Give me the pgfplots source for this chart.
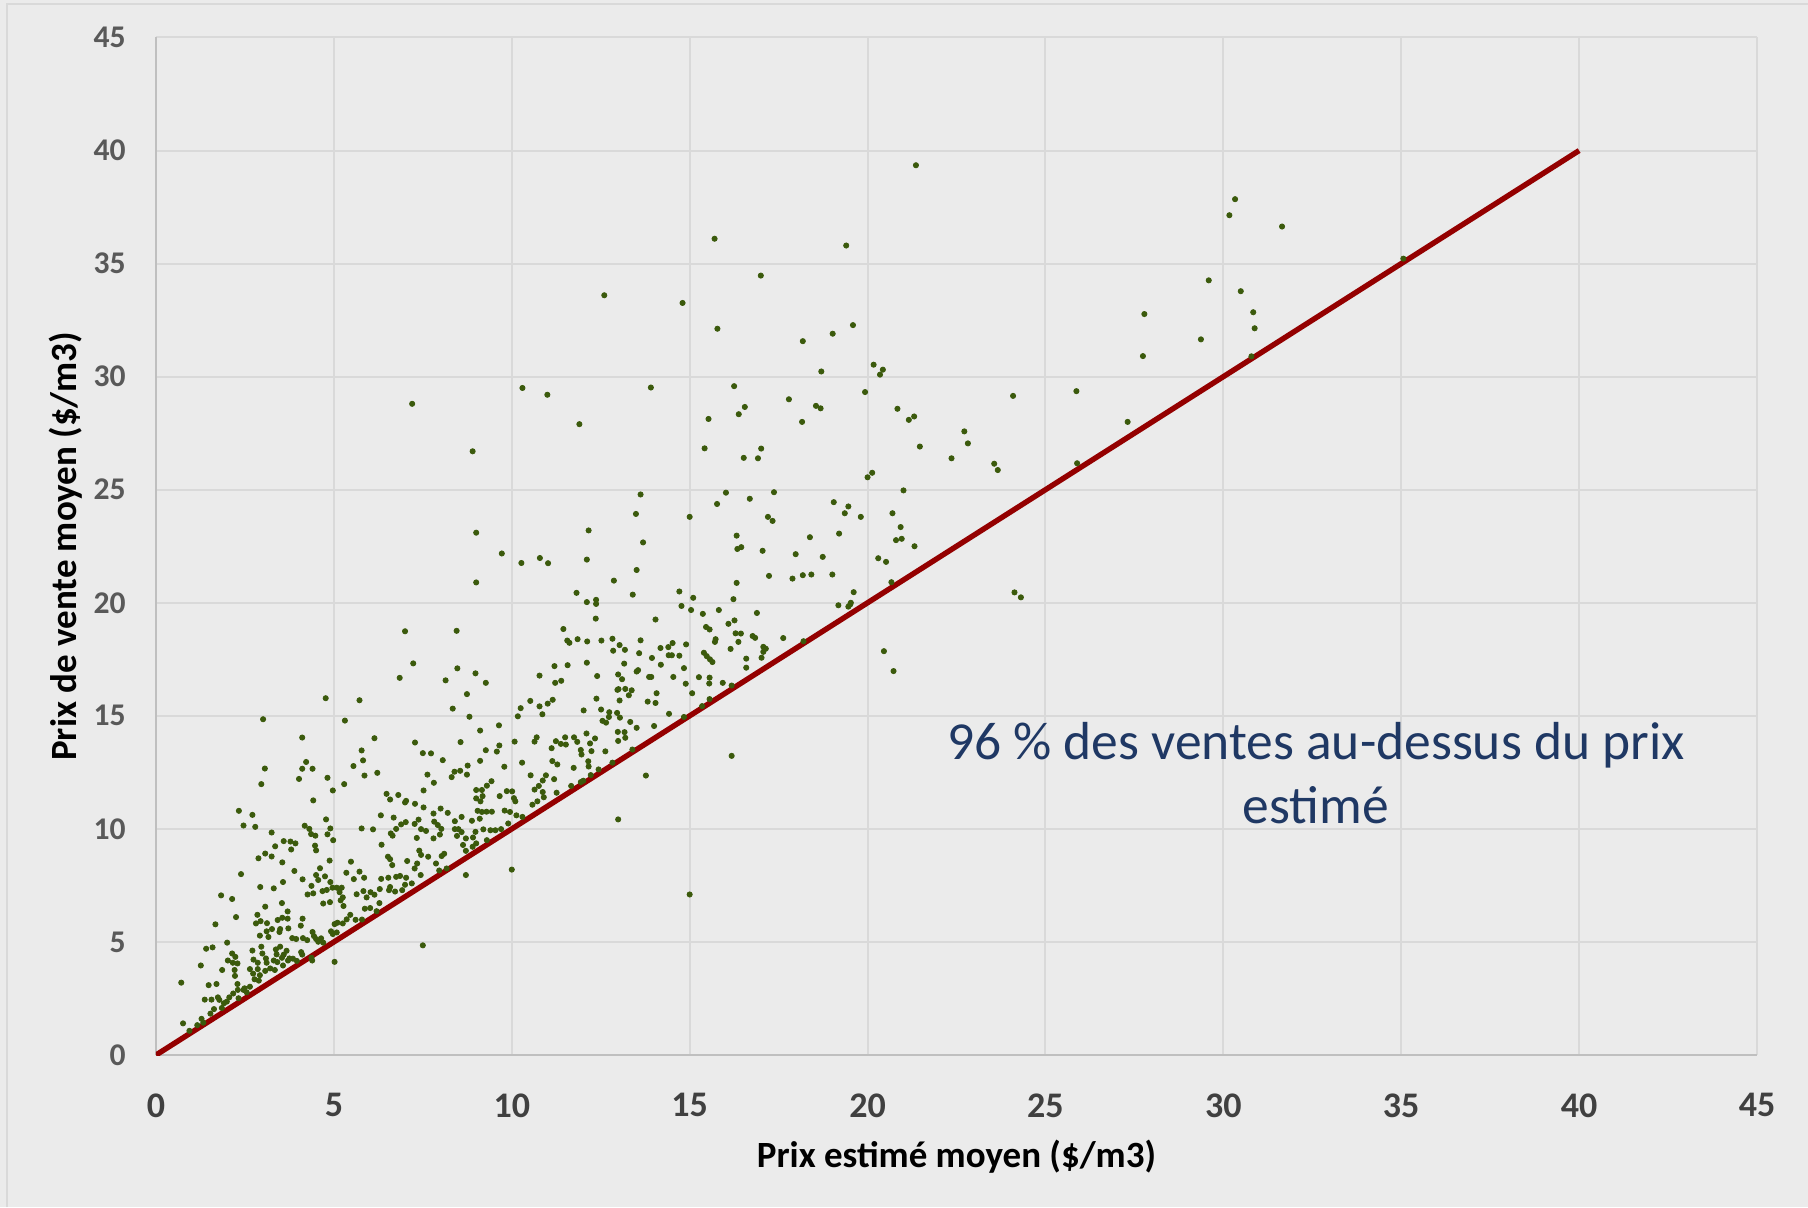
\documentclass[border=0pt]{standalone}
\usepackage{fontspec}
\setmainfont{Carlito}
\usepackage{pgfplots}
\usepackage{pgfplotstable}
\pgfplotsset{compat=1.18}
\definecolor{bgc}{HTML}{EBEBEB}
\definecolor{gridc}{HTML}{D9D9D9}
\definecolor{axc}{HTML}{BFBFBF}
\definecolor{dotc}{HTML}{3B5A0C}
\definecolor{linec}{HTML}{940000}
\definecolor{annc}{HTML}{1F3864}
\definecolor{ytc}{HTML}{595959}
\definecolor{xtc}{HTML}{404040}

\pgfplotstableread{
x y
2.96 11.98
4.42 11.26
4.97 11.7
5.29 11.98
2.33 10.8
2.71 10.62
2.46 10.15
2.79 10.09
3.25 9.84
4.18 10.14
4.31 10.0
4.36 9.77
4.48 9.70
4.78 10.42
4.9 10.02
4.82 9.76
4.98 9.5
3.59 9.46
3.78 9.44
3.92 9.36
3.35 9.23
3.8 9.09
3.07 8.91
3.25 8.78
2.88 8.7
3.55 8.52
4.47 9.26
4.5 9.05
4.88 8.6
2.39 8.0
3.89 8.14
4.61 8.26
4.12 7.77
4.5 7.96
4.75 7.9
4.56 7.74
2.93 7.43
3.31 7.37
3.57 7.65
4.37 7.48
4.9 7.65
4.96 7.4
5.08 7.4
5.22 7.4
4.26 7.1
4.42 7.15
4.68 7.25
4.8 7.3
5.16 7.2
1.83 7.06
2.14 6.9
3.07 6.56
3.54 6.72
4.89 6.76
4.7 6.7
5.19 6.84
5.27 6.59
5.25 6.97
1.67 5.78
2.25 6.1
2.85 6.2
2.94 5.92
2.81 5.82
3.12 5.83
3.42 5.97
3.55 6.07
3.7 6.35
3.7 6.03
4.12 6.03
4.07 5.72
3.72 5.6
3.49 5.57
3.26 5.57
3.11 5.47
2.92 5.28
3.16 5.22
3.47 5.44
3.83 5.17
3.94 5.13
4.13 5.17
4.25 5.08
4.4 5.44
4.44 5.26
4.5 5.13
4.64 5.16
4.7 4.97
4.56 5.01
4.92 5.47
4.97 5.35
5.08 5.42
5.02 5.79
5.1 5.85
5.25 5.82
5.36 6.0
5.46 6.2
5.61 5.98
5.79 5.99
5.87 6.47
6.02 6.5
6.2 6.36
6.28 6.72
5.92 6.97
5.64 7.11
5.83 7.25
6.03 7.2
6.14 7.09
6.29 7.34
6.55 7.29
6.72 7.23
6.92 7.29
7.0 7.53
6.58 7.43
6.33 7.79
6.53 7.84
6.75 7.88
6.86 7.92
7.03 7.84
7.06 8.58
6.58 8.66
6.52 8.77
6.64 8.4
5.48 8.55
5.72 8.11
5.85 7.84
5.56 7.78
5.35 8.06
6.34 9.3
6.6 9.8
6.65 9.7
6.75 10.0
6.89 10.2
7.02 10.3
5.78 10.02
6.1 9.98
6.32 10.6
6.68 10.5
6.48 11.55
6.81 11.5
6.58 11.3
7.0 11.17
7.03 11.24
5.02 4.12
4.39 4.18
4.37 4.3
4.11 4.44
4.08 4.55
3.96 4.16
3.85 4.26
3.71 4.18
3.59 4.44
3.67 4.61
3.49 4.79
3.37 4.67
3.39 4.45
3.54 4.3
3.31 4.18
3.41 4.11
3.57 3.96
3.34 3.76
3.11 4.08
3.09 4.27
2.99 4.49
2.96 4.79
2.71 4.62
2.74 4.22
2.86 4.08
2.86 3.8
2.64 3.8
2.73 3.6
2.77 3.35
2.89 3.29
2.64 3.02
2.49 2.95
2.55 2.77
2.3 2.88
2.29 3.14
2.22 3.5
2.21 3.76
2.16 4.08
2.29 4.05
2.14 4.49
2.23 4.34
2.0 4.97
2.02 4.18
1.86 3.76
2.17 2.72
2.06 2.55
1.99 2.36
1.91 2.29
1.78 2.44
1.74 2.55
1.7 3.14
1.48 3.09
1.56 2.45
1.37 2.45
1.63 2.03
1.53 1.83
1.41 4.7
1.59 4.76
1.26 3.96
0.71 3.2
0.76 1.4
0.94 1.07
1.16 1.32
1.28 1.6
1.33 1.43
1.85 2.08
2.32 2.51
2.46 2.88
2.92 3.53
3.07 3.72
3.21 3.83
3.75 4.27
7.0 18.74
8.45 18.76
7.23 17.32
6.85 16.68
8.47 17.1
8.14 16.57
8.98 16.88
9.27 16.46
8.74 15.96
8.34 15.32
8.81 14.96
4.77 15.78
5.72 15.69
5.31 14.79
4.11 14.04
6.14 14.01
5.78 13.47
5.82 13.03
5.55 12.78
5.86 12.36
6.22 12.48
4.82 12.26
4.4 12.66
4.22 12.96
4.11 12.66
7.28 13.82
7.5 13.35
7.73 13.34
8.06 13.04
7.63 12.4
7.81 12.04
7.52 11.7
8.56 13.84
9.11 14.35
9.64 14.58
9.65 13.69
9.58 13.42
9.27 13.48
9.11 13.01
8.76 12.8
8.55 12.57
8.39 12.53
8.31 12.29
8.74 12.4
9.43 12.11
9.3 11.91
9.79 12.75
10.08 13.86
10.29 12.93
10.25 15.34
10.17 14.98
10.52 15.66
10.78 15.42
10.86 15.07
10.78 16.78
11.01 15.54
11.15 15.71
11.2 17.2
11.22 16.46
10.64 13.86
10.7 14.05
11.12 13.57
11.24 13.88
11.14 13.0
11.19 12.2
11.28 12.85
10.53 12.37
10.96 12.37
10.87 12.14
10.76 11.9
10.64 11.74
10.87 11.63
10.9 11.4
10.72 11.22
10.58 11.07
11.26 11.6
9.86 11.67
10.01 11.66
9.66 11.45
10.06 11.36
10.1 11.22
9.95 10.75
9.8 10.81
10.13 10.6
10.3 10.53
9.0 11.72
9.16 11.72
9.0 11.35
9.12 11.22
9.18 11.45
7.28 11.11
7.52 10.95
7.8 10.68
8.0 10.9
8.2 10.71
8.59 10.53
8.4 10.34
7.82 10.32
7.92 10.17
8.02 10.0
7.98 9.75
7.8 9.58
7.59 9.91
7.38 10.41
7.27 10.22
7.45 9.99
7.33 9.6
8.4 9.99
8.5 9.99
8.59 9.86
8.46 9.69
8.71 9.58
8.91 9.62
8.98 9.87
8.88 10.36
9.1 10.45
9.04 10.8
9.16 10.75
9.29 10.76
9.44 10.76
9.2 9.98
9.4 9.94
9.54 9.94
9.7 9.99
8.9 9.21
9.0 9.36
8.63 9.29
8.71 9.03
9.3 9.5
9.9 10.24
7.4 9.04
7.45 8.85
7.34 8.47
7.27 8.25
7.44 7.96
7.65 8.77
7.87 8.47
8.03 8.8
8.1 8.9
7.96 8.16
8.17 8.25
7.19 7.59
13.62 24.79
13.49 23.93
12.16 23.2
13.69 22.67
15.0 23.8
15.77 24.37
16.02 24.87
9.72 22.18
10.27 21.76
10.79 21.98
11.02 21.75
12.11 21.91
13.51 21.45
12.87 20.98
16.32 22.97
16.34 22.38
16.32 20.88
11.82 20.44
12.11 20.03
12.37 20.13
12.37 19.95
13.4 20.36
14.71 20.5
15.1 20.22
14.77 19.86
15.04 19.68
15.37 19.51
15.82 19.68
16.23 20.16
16.09 19.07
16.26 19.22
16.29 18.65
16.37 18.27
15.46 18.93
15.56 18.82
12.36 19.3
14.04 19.26
11.45 18.84
11.56 18.33
11.62 18.23
11.85 18.39
12.12 18.29
12.52 18.33
12.83 18.41
12.85 17.88
13.03 18.13
13.18 17.92
13.62 18.34
13.58 17.77
13.16 17.31
13.94 17.56
14.18 18.0
14.4 18.04
14.52 18.22
14.41 17.68
14.5 17.68
14.71 17.66
14.9 18.16
14.19 17.26
14.84 17.11
15.71 18.27
15.73 18.39
16.15 17.96
15.4 17.79
15.48 17.64
15.57 17.5
15.64 17.38
15.26 16.71
15.56 16.69
15.55 16.43
15.93 16.46
16.18 16.34
15.07 16.0
14.89 16.42
14.54 16.72
14.07 16.0
13.82 15.63
14.04 15.57
13.55 17.02
13.51 16.96
13.86 16.72
13.92 16.72
13.1 16.62
12.99 16.83
13.0 16.18
12.97 16.15
13.19 16.19
13.37 16.13
13.29 15.91
13.03 15.68
12.4 16.76
12.11 17.35
12.38 15.76
12.51 15.28
12.74 15.16
12.96 15.13
13.04 14.92
12.73 14.95
12.55 14.78
12.65 14.7
12.02 15.24
11.57 17.24
11.39 16.55
14.42 15.09
13.33 14.73
13.51 14.47
14.0 14.55
12.98 14.29
13.17 14.28
13.19 14.03
12.99 13.89
12.1 14.22
12.34 14.0
12.2 13.78
11.84 13.85
11.75 14.05
11.5 14.05
11.38 13.76
11.52 13.73
14.84 14.95
15.35 15.43
15.56 15.74
17.0 34.47
14.8 33.26
15.78 32.12
18.18 31.57
19.02 31.9
18.7 30.23
13.91 29.52
16.25 29.58
17.79 29.0
18.55 28.71
18.68 28.6
15.53 28.13
16.55 28.66
16.38 28.34
18.16 28.0
15.42 26.83
17.01 26.82
16.52 26.41
16.92 26.39
16.69 24.6
17.37 24.89
19.05 24.45
19.46 24.26
19.36 23.96
17.2 23.8
17.33 23.62
16.45 22.46
17.05 22.3
18.38 22.9
19.2 23.06
17.98 22.15
18.74 22.03
17.23 21.19
17.89 21.07
18.18 21.22
18.42 21.25
19.01 21.25
21.36 39.35
30.33 37.85
30.17 37.14
31.65 36.64
35.06 35.22
29.59 34.26
30.49 33.78
30.84 32.85
30.88 32.14
30.79 30.9
27.78 32.77
27.74 30.91
29.37 31.65
19.59 32.28
20.17 30.53
20.43 30.31
20.35 30.09
19.93 29.32
24.09 29.15
25.87 29.36
20.84 28.58
21.31 28.24
21.16 28.09
22.72 27.58
22.82 27.05
21.47 26.91
22.36 26.39
23.56 26.15
23.66 25.87
27.31 28.0
25.89 26.17
20.0 25.55
20.13 25.75
21.01 24.97
19.81 23.8
20.7 23.96
20.93 23.35
20.8 22.77
20.96 22.83
21.32 22.5
20.3 21.97
20.52 21.81
20.67 20.91
19.61 20.47
19.53 20.0
24.13 20.46
24.31 20.24
20.46 17.86
20.73 16.98
11.94 13.49
11.96 13.29
12.24 13.44
12.15 12.99
12.16 12.76
11.74 12.7
11.67 11.9
11.94 12.07
12.01 12.13
12.22 12.38
12.44 12.63
12.63 13.43
12.83 12.93
13.39 13.51
13.77 12.36
12.99 10.42
16.18 13.23
16.44 18.64
16.59 17.53
16.59 17.13
16.77 18.53
16.84 18.45
16.89 19.55
17.02 17.57
17.07 17.83
17.07 18.05
17.14 17.97
17.63 18.44
18.2 18.3
19.18 19.89
19.51 19.92
19.46 19.83
12.6 33.6
10.3 29.5
11.0 29.2
7.2 28.8
8.9 26.7
11.9 27.9
9.0 23.1
9.0 20.9
15.7 36.1
19.4 35.8
3.01 14.85
3.06 12.67
4.02 12.21
10.0 8.2
8.71 7.96
7.5 4.85
15.0 7.1
}\ventes

\begin{document}
\begin{tikzpicture}
\fill[bgc] (-78pt,-76pt) rectangle (826pt,527.5pt);
\path[use as bounding box] (-78pt,-76pt) rectangle (826pt,527.5pt);
\draw[gridc, line width=0.8pt] (-74.5pt,-76pt) -- (-74.5pt,525.5pt) -- (826pt,525.5pt);
\begin{axis}[
  at={(0pt,0pt)}, anchor=south west,
  scale only axis, width=800.5pt, height=508.75pt,
  xmin=0, xmax=45, ymin=0, ymax=45,
  xtick={0,5,...,45}, ytick={0,5,...,45},
  grid=major, major grid style={gridc, line width=1pt},
  axis x line*=bottom, axis y line*=left,
  axis line style={axc, line width=1.2pt, -},
  major tick length=0pt,
  /pgf/number format/assume math mode=true,
  yticklabel style={font=\bfseries\fontsize{15.8}{18}\selectfont, text=ytc, inner sep=0pt, xshift=-15pt},
  xticklabel style={font=\bfseries\fontsize{18}{20}\selectfont, text=xtc, inner sep=0pt, yshift=-19pt},
  xlabel={Prix estimé moyen (\$/m3)},
  ylabel={Prix de vente moyen (\$/m3)},
  every axis x label/.style={at={(axis description cs:0.5,0)}, yshift=-51pt, anchor=center, font=\bfseries\fontsize{18.5}{22}\selectfont, text=black},
  every axis y label/.style={at={(axis description cs:0,0.5)}, xshift=-45pt, rotate=90, anchor=center, font=\bfseries\fontsize{18.5}{22}\selectfont, text=black},
  clip=true,
]
\addplot[only marks, mark=*, mark size=1.3pt, draw=dotc, fill=dotc] table[x=x, y=y] {\ventes};
\addplot[linec, line width=2.7pt] coordinates {(0,0) (40,40)};
\node[align=center, text=annc, font=\fontsize{26.75}{32}\selectfont] at (axis cs:32.6,12.47) {96 \% des ventes au-dessus du prix\\estimé};
\end{axis}
\end{tikzpicture}
\end{document}
